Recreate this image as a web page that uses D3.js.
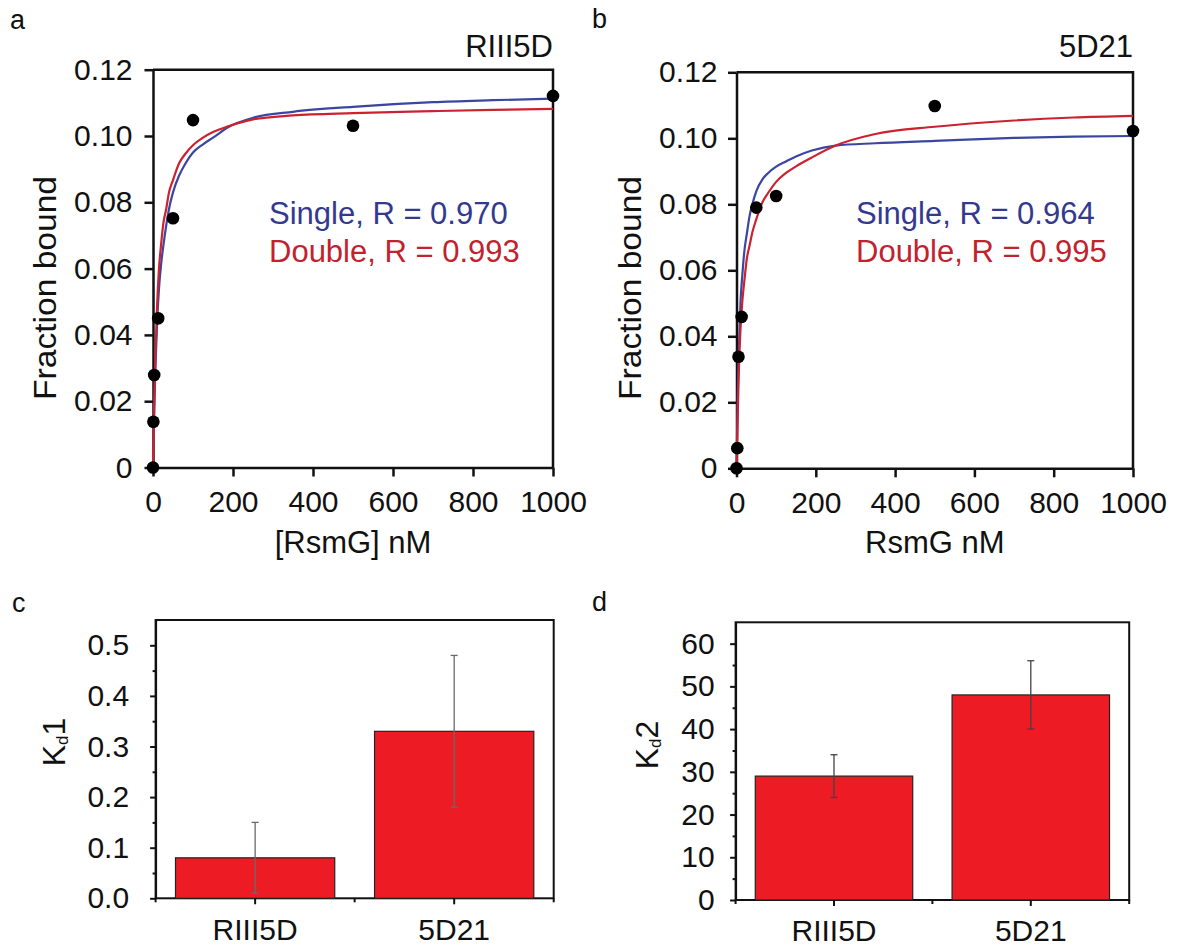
<!DOCTYPE html>
<html>
<head>
<meta charset="utf-8">
<script src="https://cdn.jsdelivr.net/npm/d3@7"></script>
<style>
  body { margin: 0; background: #fff; }
  svg { display: block; font-family: "Liberation Sans", Arial, sans-serif; }
</style>
</head>
<body>
<svg id="fig" width="1178" height="951"></svg>
<script>
// measured binding points (nM, fraction bound)
const concA = [0, 1, 3, 13, 50, 100, 500, 1000];
const boundA = [0, 0.0138, 0.0279, 0.045, 0.0752, 0.1048, 0.1031, 0.1121];
const concB = [0, 2, 5, 13, 50, 100, 500, 1000];
const boundB = [0, 0.0061, 0.0338, 0.0459, 0.079, 0.0825, 0.1098, 0.1022];

// fitted curves at these concentrations
const fitConc = [0, 3, 6, 10, 15, 20, 26, 33, 40, 50, 65, 80, 100, 125, 150, 190, 250, 350, 500, 700, 850, 1000];
const singleA = [0, 0.017, 0.030, 0.043, 0.054, 0.061, 0.067, 0.073, 0.078, 0.083, 0.088, 0.0915, 0.095, 0.0975, 0.0995, 0.1028, 0.1055, 0.1073, 0.1088, 0.1102, 0.1108, 0.1113];
const doubleA = [0, 0.018, 0.033, 0.048, 0.060, 0.067, 0.0737, 0.078, 0.083, 0.0867, 0.0917, 0.0945, 0.0972, 0.0995, 0.1012, 0.103, 0.105, 0.1062, 0.1069, 0.1075, 0.1079, 0.1082];
const singleB = [0, 0.022, 0.036, 0.050, 0.059, 0.066, 0.071, 0.0765, 0.080, 0.084, 0.0875, 0.0895, 0.0914, 0.093, 0.0945, 0.0963, 0.0978, 0.0985, 0.0992, 0.1001, 0.1005, 0.1007];
const doubleB = [0, 0.016, 0.030, 0.042, 0.051, 0.057, 0.0635, 0.0675, 0.0715, 0.0755, 0.0805, 0.0835, 0.0868, 0.0895, 0.0915, 0.0942, 0.0978, 0.1013, 0.1035, 0.1054, 0.1063, 0.1068];

const xTicks = [0, 200, 400, 600, 800, 1000];
const fracTicks = [0, 0.02, 0.04, 0.06, 0.08, 0.10, 0.12];

// dissociation constants
const constructs = ["RIII5D", "5D21"];
const kd1 = [0.08, 0.33];
const kd1Err = [0.07, 0.15];
const kd2 = [29, 48];
const kd2Err = [5, 8];
const kd1Ticks = [0, 0.1, 0.2, 0.3, 0.4, 0.5];
const kd1Minor = [0.05, 0.15, 0.25, 0.35, 0.45];
const kd2Ticks = [0, 10, 20, 30, 40, 50, 60];
const kd2Minor = [5, 15, 25, 35, 45, 55];

const BLUE = "#3a46a0", RED = "#cc2230";
const svg = d3.select("#fig");

function letter(txt, x, y) {
  svg.append("text").attr("x", x).attr("y", y).attr("font-size", 27).attr("fill", "#111").text(txt);
}

function fitPanel(o) {
  const g = svg.append("g");
  const x = d3.scaleLinear().domain([0, 1000]).range([o.left, o.right]);
  const y = d3.scaleLinear().domain([0, 0.12]).range([o.bottom, o.top]);

  g.append("path")
    .attr("d", `M${o.left},${o.top}H${o.right}V${o.bottom}`)
    .attr("fill", "none").attr("stroke", "#111").attr("stroke-width", 2.5);

  const xa = g.append("g").attr("transform", `translate(0,${o.bottom})`)
    .call(d3.axisBottom(x).tickValues(xTicks).tickSize(9).tickPadding(14).tickSizeOuter(0)
      .tickFormat(d3.format("d")));
  const ya = g.append("g").attr("transform", `translate(${o.left},0)`)
    .call(d3.axisLeft(y).tickValues(fracTicks).tickSize(8.5).tickPadding(o.yPad).tickSizeOuter(0)
      .tickFormat(d => d === 0 ? "0" : d3.format(".2f")(d)));
  [xa, ya].forEach(a => {
    a.selectAll("path,line").attr("stroke", "#111").attr("stroke-width", 2.5);
    a.selectAll("text").attr("font-size", 30).attr("fill", "#111").attr("font-family", null);
  });

  const line = d3.line().x(d => x(d[0])).y(d => y(d[1])).curve(d3.curveMonotoneX);
  g.append("path").datum(fitConc.map((c, i) => [c, o.single[i]]))
    .attr("d", line).attr("fill", "none").attr("stroke", BLUE).attr("stroke-width", 2.2);
  g.append("path").datum(fitConc.map((c, i) => [c, o.double[i]]))
    .attr("d", line).attr("fill", "none").attr("stroke", RED).attr("stroke-width", 2.2);

  g.selectAll("circle.pt").data(o.conc.map((c, i) => [c, o.bound[i]])).enter()
    .append("circle").attr("class", "pt")
    .attr("cx", d => x(d[0])).attr("cy", d => y(d[1])).attr("r", 6.3).attr("fill", "#000");

  g.append("text").attr("x", o.right).attr("y", 57).attr("text-anchor", "end")
    .attr("font-size", 31).attr("fill", "#111").text(o.title);
  g.append("text").attr("x", o.legendX).attr("y", 224).attr("font-size", 31)
    .attr("fill", "#33398f").text(o.singleLabel);
  g.append("text").attr("x", o.legendX).attr("y", 262).attr("font-size", 31)
    .attr("fill", "#c1222e").text(o.doubleLabel);

  g.append("text").attr("x", (o.left + o.right) / 2).attr("y", 553).attr("text-anchor", "middle")
    .attr("font-size", 31).attr("fill", "#111").text(o.xLabel);
  g.append("text").attr("transform", `translate(${o.yLabelX},${o.yLabelY}) rotate(-90)`)
    .attr("text-anchor", "middle").attr("font-size", 31).attr("fill", "#111")
    .attr("textLength", 224).attr("lengthAdjust", "spacingAndGlyphs").text("Fraction bound");
}

function barPanel(o) {
  const g = svg.append("g");
  const x = d3.scaleBand().domain(constructs).range([o.left, o.right]).paddingInner(0.2).paddingOuter(0.1);
  const y = d3.scaleLinear().domain(o.domain).range([o.bottom, o.top]);

  g.append("rect").attr("x", o.left).attr("y", o.top)
    .attr("width", o.right - o.left).attr("height", o.bottom - o.top)
    .attr("fill", "none").attr("stroke", "#111").attr("stroke-width", 2);

  g.selectAll("rect.bar").data(constructs).enter().append("rect").attr("class", "bar")
    .attr("x", d => x(d)).attr("width", x.bandwidth())
    .attr("y", (d, i) => y(o.values[i])).attr("height", (d, i) => y(0) - y(o.values[i]))
    .attr("fill", "#ed1c24").attr("stroke", "#222").attr("stroke-width", 1.2);

  const err = g.selectAll("g.err").data(constructs).enter().append("g").attr("class", "err")
    .attr("stroke", o.errColor).attr("stroke-width", 1.3);
  err.append("line")
    .attr("x1", d => x(d) + x.bandwidth() / 2).attr("x2", d => x(d) + x.bandwidth() / 2)
    .attr("y1", (d, i) => y(o.values[i] - o.errors[i])).attr("y2", (d, i) => y(o.values[i] + o.errors[i]));
  [-1, 1].forEach(s => {
    err.append("line")
      .attr("x1", d => x(d) + x.bandwidth() / 2 - 3.5).attr("x2", d => x(d) + x.bandwidth() / 2 + 3.5)
      .attr("y1", (d, i) => y(o.values[i] + s * o.errors[i])).attr("y2", (d, i) => y(o.values[i] + s * o.errors[i]));
  });

  const ya = g.append("g").attr("transform", `translate(${o.left},0)`)
    .call(d3.axisLeft(y).tickValues(o.ticks).tickSize(5.5).tickPadding(o.yPad).tickSizeOuter(0)
      .tickFormat(d3.format(o.fmt)));
  const ym = g.append("g").attr("transform", `translate(${o.left},0)`)
    .call(d3.axisLeft(y).tickValues(o.minor).tickSize(3).tickFormat(""));
  ym.select(".domain").remove();
  [ya, ym].forEach(a => a.selectAll("path,line").attr("stroke", "#111").attr("stroke-width", 2));
  ya.selectAll("text").attr("font-size", 30).attr("fill", "#111").attr("font-family", null);

  // bottom ticks: box edges, midpoint, and bar centres
  const edgeTicks = [o.left, (o.left + o.right) / 2, o.right];
  g.selectAll("line.et").data(edgeTicks).enter().append("line")
    .attr("x1", d => d).attr("x2", d => d).attr("y1", o.bottom).attr("y2", o.bottom + 4)
    .attr("stroke", "#111").attr("stroke-width", 2);
  g.selectAll("line.ct").data(constructs).enter().append("line")
    .attr("x1", d => x(d) + x.bandwidth() / 2).attr("x2", d => x(d) + x.bandwidth() / 2)
    .attr("y1", o.bottom).attr("y2", o.bottom + 6)
    .attr("stroke", "#111").attr("stroke-width", 2);
  g.selectAll("text.cat").data(constructs).enter().append("text")
    .attr("x", d => x(d) + x.bandwidth() / 2).attr("y", o.catY).attr("text-anchor", "middle")
    .attr("font-size", 30).attr("fill", "#111").text(d => d);

  const lab = g.append("text").attr("transform", `translate(${o.yLabelX},${o.yLabelY}) rotate(-90)`)
    .attr("text-anchor", "middle").attr("font-size", 32).attr("fill", "#111");
  lab.append("tspan").text("K");
  lab.append("tspan").attr("font-size", 17).attr("dy", 3).text("d");
  lab.append("tspan").attr("dy", -3).text(o.sub);
}

letter("a", 10, 29);
letter("b", 592, 28);
letter("c", 12, 612);
letter("d", 592, 611);

fitPanel({ left: 153, right: 553, top: 69.7, bottom: 467.5, yPad: 12,
  conc: concA, bound: boundA, single: singleA, double: doubleA,
  title: "RIII5D", legendX: 269, singleLabel: "Single, R = 0.970", doubleLabel: "Double, R = 0.993",
  xLabel: "[RsmG] nM", yLabelX: 56, yLabelY: 288 });

fitPanel({ left: 736.5, right: 1133, top: 72.3, bottom: 468.3, yPad: 10.5,
  conc: concB, bound: boundB, single: singleB, double: doubleB,
  title: "5D21", legendX: 856, singleLabel: "Single, R = 0.964", doubleLabel: "Double, R = 0.995",
  xLabel: "RsmG nM", yLabelX: 641, yLabelY: 288 });

barPanel({ left: 155.6, right: 553.7, top: 620, bottom: 898.3, domain: [0, 0.55],
  values: kd1, errors: kd1Err, ticks: kd1Ticks, minor: kd1Minor, fmt: ".1f", yPad: 21,
  errColor: "#6a6a6a", catY: 940, yLabelX: 64.5, yLabelY: 742, sub: "1" });

barPanel({ left: 735.6, right: 1129.2, top: 622.3, bottom: 900, domain: [0, 65],
  values: kd2, errors: kd2Err, ticks: kd2Ticks, minor: kd2Minor, fmt: "d", yPad: 15.5,
  errColor: "#444", catY: 941, yLabelX: 658, yLabelY: 745, sub: "2" });
</script>
</body>
</html>
